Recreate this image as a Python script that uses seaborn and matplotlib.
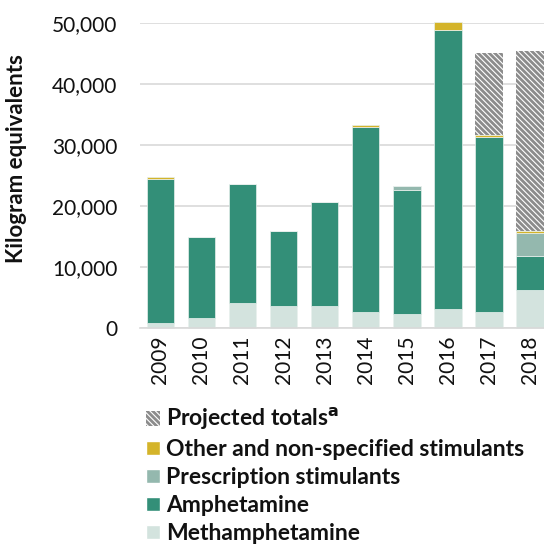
import matplotlib
matplotlib.use("Agg")
import matplotlib.pyplot as plt
import seaborn as sns
import numpy as np
from matplotlib.patches import Patch

years = ['2009', '2010', '2011', '2012', '2013', '2014', '2015', '2016', '2017', '2018']
meth = [800, 1500, 4000, 3550, 3500, 2600, 2200, 3000, 2600, 6200]
amph = [23600, 13450, 19550, 12350, 17100, 30350, 20400, 45900, 28700, 5600]
presc = [0, 0, 0, 0, 0, 0, 700, 0, 0, 3800]
other = [300, 0, 0, 0, 0, 250, 0, 1200, 300, 250]
projected = [0, 0, 0, 0, 0, 0, 0, 0, 13500, 29500]

c_meth = '#d3e3de'
c_amph = '#338f78'
c_presc = '#94b8ae'
c_other = '#d4b42a'
c_proj = '#8c8c8c'
proj_hatch = '\\\\\\\\\\\\'

sns.set_style('white')
plt.rcParams['font.family'] = ['Lato', 'DejaVu Sans']
plt.rcParams['hatch.linewidth'] = 0.8
for k in ['text.color', 'axes.labelcolor', 'xtick.color', 'ytick.color']:
    plt.rcParams[k] = '#111111'

fig = plt.figure(figsize=(5.44, 5.46), dpi=100)
ax = fig.add_axes([0.257, 0.4, 0.743, 0.558])

layers = [(meth, c_meth, None), (amph, c_amph, None), (presc, c_presc, None),
          (other, c_other, None), (projected, c_proj, proj_hatch)]
bottom = np.zeros(len(years))
for vals, col, hatch in layers:
    vals = np.array(vals, dtype=float)
    if hatch:
        sns.barplot(x=years, y=vals, bottom=bottom, color=col, width=0.67,
                    hatch=hatch, edgecolor='white', linewidth=0, ax=ax,
                    saturation=1, clip_on=False)
    else:
        sns.barplot(x=years, y=vals, bottom=bottom, color=col, width=0.67,
                    edgecolor='#e8f0ed', linewidth=0.5, ax=ax,
                    saturation=1, clip_on=False)
    bottom += vals

ax.set_xlim(-0.5, 9.34)
ax.set_ylim(0, 50000)
ax.set_yticks(range(0, 50001, 10000))
ax.set_yticklabels([f'{v:,}' for v in range(0, 50001, 10000)], fontsize=15)
ax.yaxis.grid(True, color='#d9d9d9', linewidth=1.2)
ax.set_axisbelow(True)
for s in ['top', 'right', 'left']:
    ax.spines[s].set_visible(False)
ax.spines['bottom'].set_color('#d9d9d9')
ax.spines['bottom'].set_linewidth(1.2)
ax.tick_params(axis='y', length=0, pad=16)
ax.tick_params(axis='x', length=0, pad=6, labelsize=15, labelrotation=90)
ax.set_ylabel('Kilogram equivalents', fontsize=16, fontweight='bold')
ax.yaxis.set_label_coords(-0.278, 0.556)

handles = [
    Patch(facecolor=c_proj, edgecolor='white', hatch=proj_hatch, linewidth=0,
          label=r'Projected totals$^{\mathbf{a}}$'),
    Patch(facecolor=c_other, label='Other and non-specified stimulants'),
    Patch(facecolor=c_presc, label='Prescription stimulants'),
    Patch(facecolor=c_amph, label='Amphetamine'),
    Patch(facecolor=c_meth, label='Methamphetamine'),
]
fig.legend(handles=handles, loc='upper left', bbox_to_anchor=(0.268, 0.256),
           frameon=False, prop={'weight': 'bold', 'size': 16.5},
           handlelength=0.6, handleheight=0.6, handletextpad=0.3,
           labelspacing=0.3, borderaxespad=0, borderpad=0)

fig.savefig('out.png', dpi=100)
